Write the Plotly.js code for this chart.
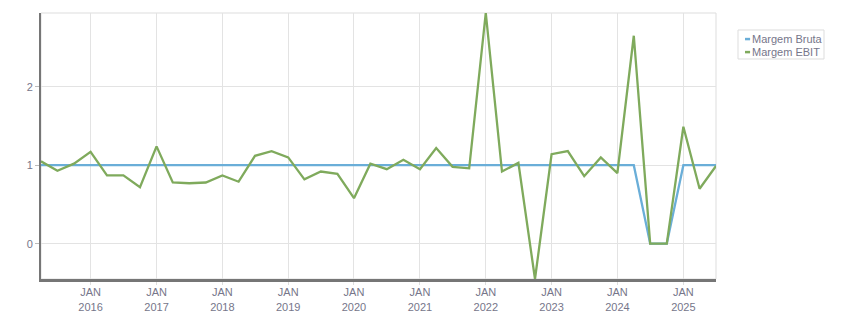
<!DOCTYPE html>
<html>
<head>
<meta charset="utf-8">
<script src="https://cdn.plot.ly/plotly-3.0.1.min.js"></script>
<style>html,body{margin:0;padding:0;background:#fff;}#chart{width:851px;height:313px;}</style>
</head>
<body>
<div id="chart"></div>
<script>
const dates = [
  "2015-04-01","2015-07-01","2015-10-01",
  "2016-01-01","2016-04-01","2016-07-01","2016-10-01",
  "2017-01-01","2017-04-01","2017-07-01","2017-10-01",
  "2018-01-01","2018-04-01","2018-07-01","2018-10-01",
  "2019-01-01","2019-04-01","2019-07-01","2019-10-01",
  "2020-01-01","2020-04-01","2020-07-01","2020-10-01",
  "2021-01-01","2021-04-01","2021-07-01","2021-10-01",
  "2022-01-01","2022-04-01","2022-07-01","2022-10-01",
  "2023-01-01","2023-04-01","2023-07-01","2023-10-01",
  "2024-01-01","2024-04-01","2024-07-01","2024-10-01",
  "2025-01-01","2025-04-01","2025-07-01"
];
const margemBruta = [
  1,1,1,
  1,1,1,1,
  1,1,1,1,
  1,1,1,1,
  1,1,1,1,
  1,1,1,1,
  1,1,1,1,
  1,1,1,1,
  1,1,1,1,
  1,1,0,0,
  1,1,1
];
const margemEBIT = [
  1.05,0.93,1.02,
  1.17,0.87,0.87,0.72,
  1.24,0.78,0.77,0.78,
  0.87,0.79,1.12,1.18,
  1.10,0.82,0.92,0.89,
  0.58,1.02,0.95,1.07,
  0.95,1.22,0.98,0.96,
  2.94,0.92,1.03,-0.45,
  1.14,1.18,0.86,1.10,
  0.90,2.65,0,0,
  1.49,0.70,0.99
];
const seriesNames = ["Margem Bruta","Margem EBIT"];
const seriesColors = ["#6aaed8", "#7faa5c"];

const traces = [
  {x: dates, y: margemBruta, name: seriesNames[0], type: "scatter", mode: "lines",
   line: {color: seriesColors[0], width: 2.3}, showlegend: false},
  {x: dates, y: margemEBIT, name: seriesNames[1], type: "scatter", mode: "lines",
   line: {color: seriesColors[1], width: 2.3}, showlegend: false}
];

const yMin = Math.min(...margemEBIT, ...margemBruta);
const yMax = Math.max(...margemEBIT, ...margemBruta);

const FONT = "'Liberation Sans', Arial, sans-serif";
const TXT = "#76768a";

// compact legend (paper coordinates)
const legY = [0.902, 0.853];
const shapes = [
  {type: "rect", xref: "paper", yref: "paper", x0: 0, x1: 1, y0: 0, y1: 1,
   line: {color: "#dddddd", width: 1}, layer: "below"},
  {type: "rect", xref: "paper", yref: "paper", x0: 1.0326, x1: 1.1600, y0: 0.8271, y1: 0.9361,
   line: {color: "#dddddd", width: 1}, fillcolor: "#ffffff"}
];
const annotations = [];
seriesNames.forEach(function(n, i){
  shapes.push({type: "line", xref: "paper", yref: "paper", x0: 1.043, x1: 1.0505,
    y0: legY[i], y1: legY[i], line: {color: seriesColors[i], width: 2.5}});
  annotations.push({xref: "paper", yref: "paper", x: 1.0500, y: legY[i],
    xanchor: "left", yanchor: "middle", showarrow: false, text: n,
    font: {family: FONT, size: 11, color: TXT}});
});

const layout = {
  width: 851, height: 313,
  margin: {l: 41, r: 135, t: 13, b: 34},
  paper_bgcolor: "#fff", plot_bgcolor: "#fff",
  font: {family: FONT, size: 11, color: TXT},
  showlegend: false,
  xaxis: {
    type: "date", range: [dates[0], dates[dates.length-1]],
    dtick: "M12", tick0: "2016-01-01", tickformat: "%b<br>%Y",
    showgrid: true, gridcolor: "#e3e3e3", gridwidth: 1,
    showline: true, linecolor: "#767676", linewidth: 3,
    ticks: "outside", ticklen: 3, tickcolor: "#dddddd",
    ticklabelstandoff: -2,
    zeroline: false, tickfont: {family: FONT, size: 11, color: TXT}
  },
  yaxis: {
    range: [yMin, yMax], dtick: 1,
    showgrid: true, gridcolor: "#e3e3e3", gridwidth: 1,
    showline: true, linecolor: "#767676", linewidth: 2,
    ticks: "outside", ticklen: 4, tickcolor: "#bbbbbb",
    zeroline: false, tickfont: {family: FONT, size: 11, color: TXT}
  },
  shapes: shapes,
  annotations: annotations
};

Plotly.newPlot("chart", traces, layout, {displayModeBar: false, staticPlot: true}).then(function(){
  document.querySelectorAll('.xtick text').forEach(function(t){
    t.querySelectorAll('tspan').forEach(function(s){ s.textContent = s.textContent.toUpperCase(); });
  });
});
</script>
</body>
</html>
